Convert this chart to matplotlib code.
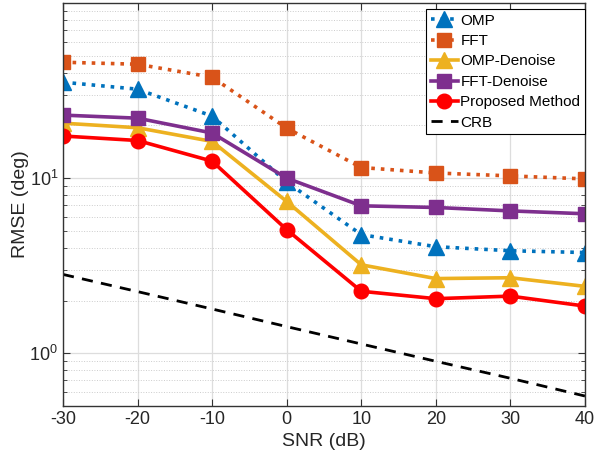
import matplotlib
matplotlib.use("Agg")
import matplotlib.pyplot as plt
from matplotlib.ticker import LogLocator, NullFormatter

plt.rcParams["font.family"] = ["Liberation Sans", "DejaVu Sans"]

snr = [-30, -20, -10, 0, 10, 20, 30, 40]
omp = [35.3, 32.2, 22.6, 9.5, 4.76, 4.06, 3.85, 3.76]
fft = [45.9, 44.7, 37.7, 19.3, 11.5, 10.7, 10.3, 9.9]
omp_denoise = [20.6, 19.4, 16.2, 7.36, 3.2, 2.67, 2.7, 2.41]
fft_denoise = [22.9, 22.0, 18.1, 10.0, 6.95, 6.8, 6.5, 6.26]
proposed = [17.4, 16.4, 12.5, 5.08, 2.26, 2.05, 2.12, 1.86]
crb = [2.82, 2.25, 1.79, 1.42, 1.13, 0.90, 0.72, 0.57]

fig = plt.figure(figsize=(5.96, 4.61), dpi=100)
ax = fig.add_axes([0.1057, 0.1193, 0.8758, 0.8742])

ax.plot(snr, omp, ":", color="#0072BD", lw=2.6, marker="^", ms=11, label="OMP")
ax.plot(snr, fft, ":", color="#D95319", lw=2.6, marker="s", ms=9.5, label="FFT")
ax.plot(snr, omp_denoise, "-", color="#EDB120", lw=2.6, marker="^", ms=11, label="OMP-Denoise")
ax.plot(snr, fft_denoise, "-", color="#7E2F8E", lw=2.6, marker="s", ms=9.5, label="FFT-Denoise")
ax.plot(snr, proposed, "-", color="#FF0000", lw=2.6, marker="o", ms=10.5, label="Proposed Method")
ax.plot(snr, crb, "--", color="black", lw=2.0, dashes=(4, 3), label="CRB")

ax.set_yscale("log")
ax.set_xlim(-30, 40)
ax.set_ylim(0.5, 100)
ax.set_xticks(snr)
ax.set_xticklabels([str(v) for v in snr])
ax.set_yticks([1, 10])
ax.yaxis.set_minor_locator(LogLocator(base=10, subs=range(2, 10)))
ax.yaxis.set_minor_formatter(NullFormatter())

ax.grid(True, which="major", color="#dddddd", lw=0.9)
ax.grid(True, which="minor", axis="y", color="#cccccc", lw=0.7, ls=":")
ax.set_axisbelow(True)

for s in ax.spines.values():
    s.set_color("#333333")
    s.set_linewidth(1.0)
ax.tick_params(which="both", direction="in", top=True, right=True,
               colors="#333333", labelcolor="#262626", labelsize=13)
ax.tick_params(which="major", length=5)
ax.tick_params(which="minor", length=3)

ax.set_xlabel("SNR (dB)", fontsize=14, color="#262626", labelpad=4)
ax.set_ylabel("RMSE (deg)", fontsize=14, color="#262626", labelpad=0)

leg = ax.legend(loc="upper right", bbox_to_anchor=(1.0, 0.985), fontsize=11,
                frameon=True, fancybox=False, edgecolor="black", framealpha=1,
                borderpad=0.3, labelspacing=0.42, handlelength=1.8,
                handletextpad=0.15, borderaxespad=0.0)
leg.get_frame().set_linewidth(0.8)

fig.savefig("out.png", dpi=100)
